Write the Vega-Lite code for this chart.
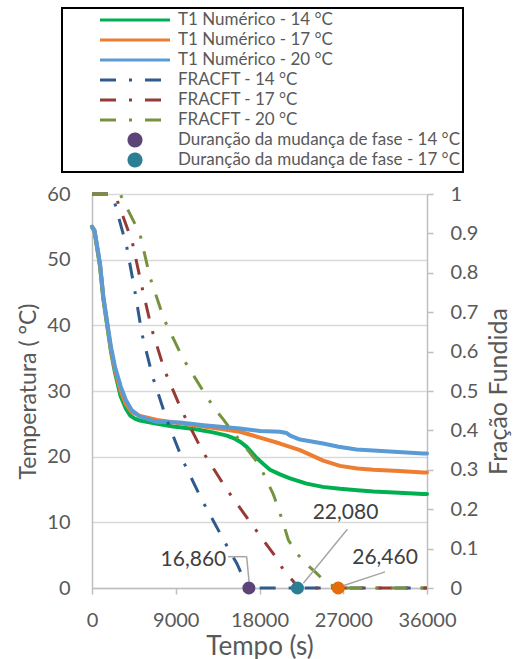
{
  "$schema": "https://vega.github.io/schema/vega-lite/v6.json",
  "width": 335,
  "height": 394,
  "autosize": {"type": "none"},
  "padding": {"left": 92, "top": 194, "right": 90, "bottom": 71},
  "background": "white",
  "config": {
    "font": "Lato",
    "view": {"stroke": null},
    "axis": {
      "labelFont": "Lato", "titleFont": "Lato",
      "labelColor": "#595959", "titleColor": "#595959",
      "labelFontSize": 20, "titleFontSize": 25, "titleFontWeight": "normal",
      "gridColor": "#D9D9D9", "gridWidth": 1.5,
      "domainColor": "#BFBFBF", "domainWidth": 1.5,
      "tickColor": "#BFBFBF", "tickWidth": 1.5,
      "labelOverlap": false, "labelFlush": false
    }
  },
  "datasets": {
    "t1": [
      {"series": "T1 Numérico - 14 °C", "t": 0, "T": 55},
      {"series": "T1 Numérico - 14 °C", "t": 270, "T": 54.3},
      {"series": "T1 Numérico - 14 °C", "t": 860, "T": 49.0},
      {"series": "T1 Numérico - 14 °C", "t": 1220, "T": 44.0},
      {"series": "T1 Numérico - 14 °C", "t": 1650, "T": 39.8},
      {"series": "T1 Numérico - 14 °C", "t": 2040, "T": 36.0},
      {"series": "T1 Numérico - 14 °C", "t": 2470, "T": 32.8},
      {"series": "T1 Numérico - 14 °C", "t": 3080, "T": 29.2},
      {"series": "T1 Numérico - 14 °C", "t": 3650, "T": 27.3},
      {"series": "T1 Numérico - 14 °C", "t": 4080, "T": 26.3},
      {"series": "T1 Numérico - 14 °C", "t": 4600, "T": 25.8},
      {"series": "T1 Numérico - 14 °C", "t": 5160, "T": 25.5},
      {"series": "T1 Numérico - 14 °C", "t": 7000, "T": 25.0},
      {"series": "T1 Numérico - 14 °C", "t": 8740, "T": 24.6},
      {"series": "T1 Numérico - 14 °C", "t": 11000, "T": 24.2},
      {"series": "T1 Numérico - 14 °C", "t": 13000, "T": 23.7},
      {"series": "T1 Numérico - 14 °C", "t": 14500, "T": 23.2},
      {"series": "T1 Numérico - 14 °C", "t": 15400, "T": 22.7},
      {"series": "T1 Numérico - 14 °C", "t": 16000, "T": 22.2},
      {"series": "T1 Numérico - 14 °C", "t": 16620, "T": 21.5},
      {"series": "T1 Numérico - 14 °C", "t": 17200, "T": 20.6},
      {"series": "T1 Numérico - 14 °C", "t": 17700, "T": 19.8},
      {"series": "T1 Numérico - 14 °C", "t": 18400, "T": 18.9},
      {"series": "T1 Numérico - 14 °C", "t": 19130, "T": 18.0},
      {"series": "T1 Numérico - 14 °C", "t": 20200, "T": 17.3},
      {"series": "T1 Numérico - 14 °C", "t": 21280, "T": 16.7},
      {"series": "T1 Numérico - 14 °C", "t": 23050, "T": 15.9},
      {"series": "T1 Numérico - 14 °C", "t": 24800, "T": 15.4},
      {"series": "T1 Numérico - 14 °C", "t": 26650, "T": 15.1},
      {"series": "T1 Numérico - 14 °C", "t": 28500, "T": 14.9},
      {"series": "T1 Numérico - 14 °C", "t": 30230, "T": 14.7},
      {"series": "T1 Numérico - 14 °C", "t": 33000, "T": 14.5},
      {"series": "T1 Numérico - 14 °C", "t": 35590, "T": 14.3},
      {"series": "T1 Numérico - 14 °C", "t": 36000, "T": 14.3},
      {"series": "T1 Numérico - 17 °C", "t": 0, "T": 55},
      {"series": "T1 Numérico - 17 °C", "t": 270, "T": 54.4},
      {"series": "T1 Numérico - 17 °C", "t": 860, "T": 49.2},
      {"series": "T1 Numérico - 17 °C", "t": 1220, "T": 44.2},
      {"series": "T1 Numérico - 17 °C", "t": 1650, "T": 40.0},
      {"series": "T1 Numérico - 17 °C", "t": 2040, "T": 36.3},
      {"series": "T1 Numérico - 17 °C", "t": 2470, "T": 33.2},
      {"series": "T1 Numérico - 17 °C", "t": 3080, "T": 30.0},
      {"series": "T1 Numérico - 17 °C", "t": 3650, "T": 28.0},
      {"series": "T1 Numérico - 17 °C", "t": 4260, "T": 26.8},
      {"series": "T1 Numérico - 17 °C", "t": 5160, "T": 26.2},
      {"series": "T1 Numérico - 17 °C", "t": 7000, "T": 25.6},
      {"series": "T1 Numérico - 17 °C", "t": 9460, "T": 25.1},
      {"series": "T1 Numérico - 17 °C", "t": 12000, "T": 24.6},
      {"series": "T1 Numérico - 17 °C", "t": 15900, "T": 23.8},
      {"series": "T1 Numérico - 17 °C", "t": 18050, "T": 22.9},
      {"series": "T1 Numérico - 17 °C", "t": 20200, "T": 22.0},
      {"series": "T1 Numérico - 17 °C", "t": 22350, "T": 21.0},
      {"series": "T1 Numérico - 17 °C", "t": 23600, "T": 20.2},
      {"series": "T1 Numérico - 17 °C", "t": 24840, "T": 19.4},
      {"series": "T1 Numérico - 17 °C", "t": 26650, "T": 18.6},
      {"series": "T1 Numérico - 17 °C", "t": 28500, "T": 18.2},
      {"series": "T1 Numérico - 17 °C", "t": 30230, "T": 18.0},
      {"series": "T1 Numérico - 17 °C", "t": 33000, "T": 17.8},
      {"series": "T1 Numérico - 17 °C", "t": 35590, "T": 17.6},
      {"series": "T1 Numérico - 17 °C", "t": 36000, "T": 17.6},
      {"series": "T1 Numérico - 20 °C", "t": 0, "T": 55},
      {"series": "T1 Numérico - 20 °C", "t": 270, "T": 54.5},
      {"series": "T1 Numérico - 20 °C", "t": 860, "T": 49.4},
      {"series": "T1 Numérico - 20 °C", "t": 1220, "T": 44.4},
      {"series": "T1 Numérico - 20 °C", "t": 1650, "T": 40.3},
      {"series": "T1 Numérico - 20 °C", "t": 2040, "T": 36.7},
      {"series": "T1 Numérico - 20 °C", "t": 2470, "T": 33.7},
      {"series": "T1 Numérico - 20 °C", "t": 3080, "T": 30.7},
      {"series": "T1 Numérico - 20 °C", "t": 3650, "T": 28.6},
      {"series": "T1 Numérico - 20 °C", "t": 4260, "T": 27.1},
      {"series": "T1 Numérico - 20 °C", "t": 5160, "T": 26.1},
      {"series": "T1 Numérico - 20 °C", "t": 6950, "T": 25.3},
      {"series": "T1 Numérico - 20 °C", "t": 9460, "T": 25.2},
      {"series": "T1 Numérico - 20 °C", "t": 12000, "T": 24.8},
      {"series": "T1 Numérico - 20 °C", "t": 15900, "T": 24.3},
      {"series": "T1 Numérico - 20 °C", "t": 18050, "T": 23.9},
      {"series": "T1 Numérico - 20 °C", "t": 20200, "T": 23.8},
      {"series": "T1 Numérico - 20 °C", "t": 20920, "T": 23.6},
      {"series": "T1 Numérico - 20 °C", "t": 21300, "T": 23.2},
      {"series": "T1 Numérico - 20 °C", "t": 22350, "T": 22.6},
      {"series": "T1 Numérico - 20 °C", "t": 24840, "T": 22.0},
      {"series": "T1 Numérico - 20 °C", "t": 26500, "T": 21.5},
      {"series": "T1 Numérico - 20 °C", "t": 28430, "T": 21.1},
      {"series": "T1 Numérico - 20 °C", "t": 32010, "T": 20.8},
      {"series": "T1 Numérico - 20 °C", "t": 35590, "T": 20.5},
      {"series": "T1 Numérico - 20 °C", "t": 36000, "T": 20.5}
    ],
    "frac": [
      {"series": "FRACFT - 14 °C", "t": 0, "f": 1},
      {"series": "FRACFT - 14 °C", "t": 2000, "f": 1},
      {"series": "FRACFT - 14 °C", "t": 2470, "f": 0.975},
      {"series": "FRACFT - 14 °C", "t": 3730, "f": 0.866},
      {"series": "FRACFT - 14 °C", "t": 4590, "f": 0.756},
      {"series": "FRACFT - 14 °C", "t": 5370, "f": 0.645},
      {"series": "FRACFT - 14 °C", "t": 6520, "f": 0.536},
      {"series": "FRACFT - 14 °C", "t": 8020, "f": 0.428},
      {"series": "FRACFT - 14 °C", "t": 9740, "f": 0.325},
      {"series": "FRACFT - 14 °C", "t": 11820, "f": 0.223},
      {"series": "FRACFT - 14 °C", "t": 14040, "f": 0.127},
      {"series": "FRACFT - 14 °C", "t": 14830, "f": 0.092},
      {"series": "FRACFT - 14 °C", "t": 15550, "f": 0.063},
      {"series": "FRACFT - 14 °C", "t": 16260, "f": 0.026},
      {"series": "FRACFT - 14 °C", "t": 16860, "f": 0},
      {"series": "FRACFT - 14 °C", "t": 36000, "f": 0},
      {"series": "FRACFT - 17 °C", "t": 0, "f": 1},
      {"series": "FRACFT - 17 °C", "t": 2200, "f": 1},
      {"series": "FRACFT - 17 °C", "t": 2720, "f": 0.983},
      {"series": "FRACFT - 17 °C", "t": 4330, "f": 0.878},
      {"series": "FRACFT - 17 °C", "t": 5330, "f": 0.768},
      {"series": "FRACFT - 17 °C", "t": 6410, "f": 0.658},
      {"series": "FRACFT - 17 °C", "t": 7800, "f": 0.552},
      {"series": "FRACFT - 17 °C", "t": 9670, "f": 0.449},
      {"series": "FRACFT - 17 °C", "t": 11850, "f": 0.348},
      {"series": "FRACFT - 17 °C", "t": 14370, "f": 0.254},
      {"series": "FRACFT - 17 °C", "t": 17120, "f": 0.163},
      {"series": "FRACFT - 17 °C", "t": 19920, "f": 0.073},
      {"series": "FRACFT - 17 °C", "t": 20560, "f": 0.046},
      {"series": "FRACFT - 17 °C", "t": 21810, "f": 0.012},
      {"series": "FRACFT - 17 °C", "t": 22080, "f": 0},
      {"series": "FRACFT - 17 °C", "t": 36000, "f": 0},
      {"series": "FRACFT - 20 °C", "t": 0, "f": 1},
      {"series": "FRACFT - 20 °C", "t": 2800, "f": 1},
      {"series": "FRACFT - 20 °C", "t": 3080, "f": 0.997},
      {"series": "FRACFT - 20 °C", "t": 5160, "f": 0.898},
      {"series": "FRACFT - 20 °C", "t": 6230, "f": 0.789},
      {"series": "FRACFT - 20 °C", "t": 7740, "f": 0.682},
      {"series": "FRACFT - 20 °C", "t": 9810, "f": 0.581},
      {"series": "FRACFT - 20 °C", "t": 12320, "f": 0.486},
      {"series": "FRACFT - 20 °C", "t": 13220, "f": 0.454},
      {"series": "FRACFT - 20 °C", "t": 14110, "f": 0.428},
      {"series": "FRACFT - 20 °C", "t": 15080, "f": 0.397},
      {"series": "FRACFT - 20 °C", "t": 16090, "f": 0.369},
      {"series": "FRACFT - 20 °C", "t": 16980, "f": 0.343},
      {"series": "FRACFT - 20 °C", "t": 18050, "f": 0.31},
      {"series": "FRACFT - 20 °C", "t": 18590, "f": 0.282},
      {"series": "FRACFT - 20 °C", "t": 19480, "f": 0.238},
      {"series": "FRACFT - 20 °C", "t": 20200, "f": 0.19},
      {"series": "FRACFT - 20 °C", "t": 20560, "f": 0.164},
      {"series": "FRACFT - 20 °C", "t": 21100, "f": 0.122},
      {"series": "FRACFT - 20 °C", "t": 22000, "f": 0.088},
      {"series": "FRACFT - 20 °C", "t": 23180, "f": 0.058},
      {"series": "FRACFT - 20 °C", "t": 24150, "f": 0.037},
      {"series": "FRACFT - 20 °C", "t": 25220, "f": 0.012},
      {"series": "FRACFT - 20 °C", "t": 26460, "f": 0},
      {"series": "FRACFT - 20 °C", "t": 36000, "f": 0}
    ],
    "marks": [
      {"series": "Duranção da mudança de fase - 14 °C", "t": 16860, "f": 0},
      {"series": "Duranção da mudança de fase - 17 °C", "t": 22080, "f": 0},
      {"series": "Duranção da mudança de fase - 20 °C", "t": 26460, "f": 0}
    ],
    "leaders": [
      {"t": 14620, "f": 0.0795, "t2": 16620, "f2": 0.0795},
      {"t": 16620, "f": 0.0795, "t2": 16880, "f2": 0.016},
      {"t": 27440, "f": 0.149, "t2": 22710, "f2": 0.012},
      {"t": 31490, "f": 0.041, "t2": 26650, "f2": 0.003}
    ],
    "labels": [
      {"label": "16,860", "t": 10900, "f": 0.0698},
      {"label": "22,080", "t": 27240, "f": 0.1916},
      {"label": "26,460", "t": 31490, "f": 0.0774}
    ]
  },
  "encoding": {
    "x": {
      "field": "t", "type": "quantitative",
      "scale": {"domain": [0, 36000], "nice": false},
      "axis": {
        "title": "Tempo (s)", "titleFontSize": 26,
        "values": [0, 9000, 18000, 27000, 36000],
        "format": "d", "grid": false, "labelFlush": false,
        "tickSize": 6, "labelPadding": 16, "titlePadding": 3
      }
    }
  },
  "layer": [
    {
      "data": {"name": "t1"},
      "mark": {"type": "line", "strokeWidth": 4, "strokeCap": "round", "strokeJoin": "round"},
      "encoding": {
        "y": {
          "field": "T", "type": "quantitative",
          "scale": {"domain": [0, 60], "nice": false},
          "axis": {
            "orient": "left", "title": "Temperatura ( °C)", "titleFontSize": 23,
            "values": [0, 10, 20, 30, 40, 50, 60],
            "grid": true, "ticks": false, "tickSize": 0,
            "labelPadding": 22, "titlePadding": 6
          }
        },
        "color": {
          "field": "series", "type": "nominal",
          "scale": {
            "domain": ["T1 Numérico - 14 °C", "T1 Numérico - 17 °C", "T1 Numérico - 20 °C", "FRACFT - 14 °C", "FRACFT - 17 °C", "FRACFT - 20 °C", "Duranção da mudança de fase - 14 °C", "Duranção da mudança de fase - 17 °C", "Duranção da mudança de fase - 20 °C"],
            "range": ["#00B050", "#ED7D31", "#5B9BD5", "#2F5A8E", "#963A35", "#76923C", "#5C4478", "#2C7E94", "#E46C0A"]
          },
          "legend": {
            "orient": "none", "legendX": -30, "legendY": -186,
            "direction": "vertical", "title": null,
            "values": ["T1 Numérico - 14 °C", "T1 Numérico - 17 °C", "T1 Numérico - 20 °C", "FRACFT - 14 °C", "FRACFT - 17 °C", "FRACFT - 20 °C", "Duranção da mudança de fase - 14 °C", "Duranção da mudança de fase - 17 °C"],
            "strokeColor": "#000000", "padding": 2,
            "symbolSize": 289, "symbolStrokeWidth": 3,
            "symbolOffset": 61, "labelOffset": 33, "rowPadding": 0, "clipHeight": 20,
            "labelFont": "Lato", "labelFontSize": 17, "labelColor": "#595959", "labelLimit": 600,
            "encode": {
              "legend": {"update": {"strokeWidth": {"value": 2}}},
              "symbols": {
                "update": {
                  "shape": {"signal": "indexof(datum.value, 'Duran') === 0 ? 'M-0.706,0A0.706,0.706,0,1,1,0.706,0A0.706,0.706,0,1,1,-0.706,0Z' : 'M-4.118,0H4.118'"},
                  "fill": {"signal": "indexof(datum.value, 'Duran') === 0 ? scale('color', datum.value) : 'transparent'"},
                  "stroke": {"signal": "indexof(datum.value, 'Duran') === 0 ? 'transparent' : scale('color', datum.value)"},
                  "strokeDash": {"signal": "indexof(datum.value, 'FRACFT') === 0 ? [16, 13, 3, 13] : [1, 0]"},
                  "opacity": {"value": 1}
                }
              }
            }
          }
        }
      }
    },
    {
      "encoding": {
        "y": {
          "field": "f", "type": "quantitative",
          "scale": {"domain": [0, 1], "nice": false},
          "axis": {
            "orient": "right", "title": "Fração Fundida", "titleFontSize": 25,
            "values": [0, 0.1, 0.2, 0.3, 0.4, 0.5, 0.6, 0.7, 0.8, 0.9, 1],
            "format": "~g", "grid": false,
            "tickSize": 6, "labelPadding": 17, "titlePadding": 34, "titleAngle": -90
          }
        }
      },
      "layer": [
        {
          "data": {"name": "frac"},
          "mark": {"type": "line", "strokeWidth": 3, "strokeDash": [16, 13, 3, 13]},
          "encoding": {
            "color": {
              "field": "series", "type": "nominal",
              "scale": {
                "domain": ["T1 Numérico - 14 °C", "T1 Numérico - 17 °C", "T1 Numérico - 20 °C", "FRACFT - 14 °C", "FRACFT - 17 °C", "FRACFT - 20 °C", "Duranção da mudança de fase - 14 °C", "Duranção da mudança de fase - 17 °C", "Duranção da mudança de fase - 20 °C"],
                "range": ["#00B050", "#ED7D31", "#5B9BD5", "#2F5A8E", "#963A35", "#76923C", "#5C4478", "#2C7E94", "#E46C0A"]
              }
            }
          }
        },
        {
          "data": {"name": "leaders"},
          "mark": {"type": "rule", "color": "#A6A6A6", "strokeWidth": 1.5},
          "encoding": {
            "x2": {"field": "t2"},
            "y2": {"field": "f2"}
          }
        },
        {
          "data": {"name": "marks"},
          "mark": {"type": "point", "filled": true, "size": 170, "opacity": 1},
          "encoding": {
            "color": {
              "field": "series", "type": "nominal",
              "scale": {
                "domain": ["T1 Numérico - 14 °C", "T1 Numérico - 17 °C", "T1 Numérico - 20 °C", "FRACFT - 14 °C", "FRACFT - 17 °C", "FRACFT - 20 °C", "Duranção da mudança de fase - 14 °C", "Duranção da mudança de fase - 17 °C", "Duranção da mudança de fase - 20 °C"],
                "range": ["#00B050", "#ED7D31", "#5B9BD5", "#2F5A8E", "#963A35", "#76923C", "#5C4478", "#2C7E94", "#E46C0A"]
              }
            }
          }
        },
        {
          "data": {"name": "labels"},
          "mark": {"type": "text", "font": "Lato", "fontSize": 21, "color": "#404040", "align": "center", "baseline": "middle"},
          "encoding": {"text": {"field": "label"}}
        }
      ]
    }
  ],
  "resolve": {"scale": {"y": "independent"}}
}
